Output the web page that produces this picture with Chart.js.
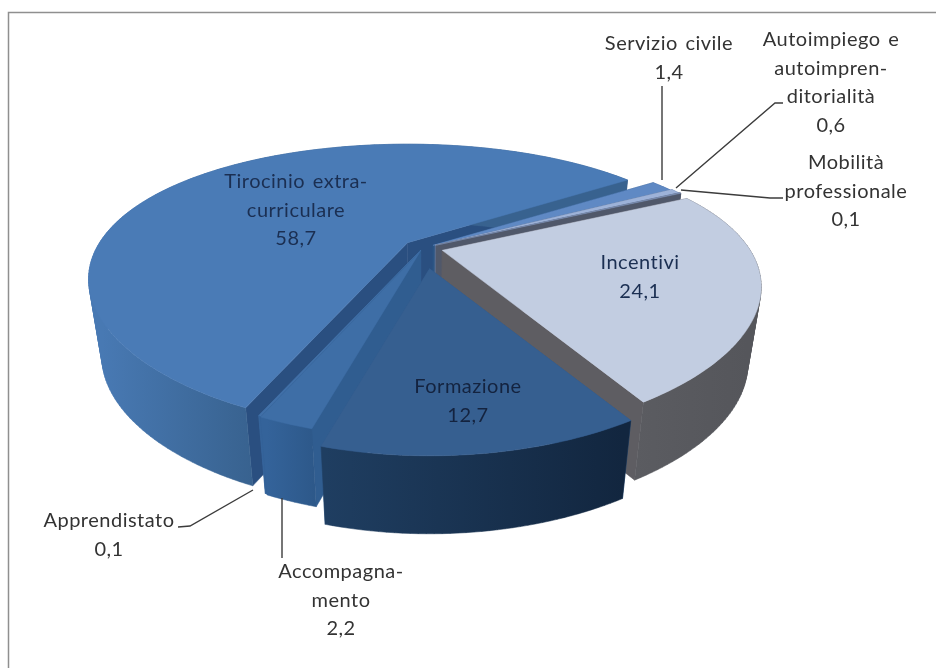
<!DOCTYPE html>
<html>
<head>
<meta charset="utf-8">
<style>
  body { margin: 0; background: #fff; }
  canvas { display: block; }
</style>
<script src="https://cdn.jsdelivr.net/npm/chart.js@4"></script>
</head>
<body>
<canvas id="chart" width="936" height="668"></canvas>
<script>
// Data, clockwise from the front-left corner
const categories = [
    ['Tirocinio extra-', 'curriculare'],
    ['Servizio civile'],
    ['Autoimpiego e', 'autoimpren-', 'ditorialità'],
    ['Mobilità', 'professionale'],
    ['Incentivi'],
    ['Formazione'],
    ['Accompagna-', 'mento'],
    ['Apprendistato']
];
const values = [58.7, 1.4, 0.6, 0.1, 24.1, 12.7, 2.2, 0.1];

const topColors = ['#4a7bb6', '#5f89c4', '#9db2d8', '#7f93b8', '#c2cde1', '#365f90', '#3e6ea6', '#4170a8'];
const wallColors = [['#4879b3', '#38628f'], ['#3a5f92', '#3a5f92'], ['#5f7396', '#5f7396'], ['#50586a', '#50586a'], ['#5b5c61', '#55565b'], ['#1f3e61', '#12263f'], ['#34639a', '#2d5889'], ['#34639a', '#34639a']];
const sideColors = ['#2a4f80', '#2d5685', '#5f7396', '#50586a', '#5e5d62', '#2f5a8c', '#305d90', '#3a679c'];
const explode = [20, 12, 14, 15, 20, 50, 8, 6];

// back to front
const drawOrder = [0, 1, 2, 3, 4, 7, 6, 5];

// centre of each text block, one entry per slice
const labelCentres = [[296, 182], [669, 44], [831, 40], [846, 163], [640, 263], [468, 387], [341, 572], [109, 521]];
const labelColors = ['#1b2f52', '#333', '#333', '#333', '#1b2f52', '#14233f', '#333', '#333'];

const leaders = [
    [[662, 86], [662, 180]],
    [[783, 103], [775, 103], [676, 188]],
    [[783, 198], [770, 198], [681, 190]],
    [[178, 527], [190, 526], [253, 490]],
    [[282, 498], [282, 558]]
];

// perspective of the disc
const TILT = 0.419, PERSP_X = 0.26, PERSP_Y = 0.31, DEPTH = 78, SHRINK = 0.04;

function project(arc, angle, radius, z) {
    const mid = (arc.startAngle + arc.endAngle) / 2;
    const off = arc.options.offset;
    const gx = radius * Math.cos(angle);
    const gy = radius * Math.sin(angle);
    const v = gy / arc.outerRadius;
    return [
        arc.x + (1 - SHRINK * z) * (off * Math.cos(mid) + gx / (1 - PERSP_X * v)),
        arc.y + TILT * (off * Math.sin(mid) + gy / (1 - PERSP_Y * v)) + DEPTH * z
    ];
}

function rimPoints(arc, z) {
    const pts = [];
    const steps = Math.max(4, Math.ceil((arc.endAngle - arc.startAngle) / 0.02));
    for (let i = 0; i <= steps; i++) {
        pts.push(project(arc, arc.startAngle + (arc.endAngle - arc.startAngle) * i / steps, arc.outerRadius, z));
    }
    return pts;
}

function tracePoly(ctx, pts) {
    pts.forEach((p, i) => i ? ctx.lineTo(p[0], p[1]) : ctx.moveTo(p[0], p[1]));
    ctx.closePath();
}

function fillPoly(ctx, pts, fill) {
    ctx.beginPath();
    tracePoly(ctx, pts);
    ctx.fillStyle = fill;
    ctx.strokeStyle = fill;
    ctx.lineWidth = 0.5;
    ctx.fill();
    ctx.stroke();
}

// all quads in one path so no seams show between them
function fillWall(ctx, topRim, lowRim, fill) {
    ctx.beginPath();
    for (let n = 0; n < topRim.length - 1; n++) {
        const quad = [topRim[n], topRim[n + 1], lowRim[n + 1], lowRim[n]];
        let area = 0;
        quad.forEach((p, k) => {
            const q = quad[(k + 1) % 4];
            area += p[0] * q[1] - q[0] * p[1];
        });
        tracePoly(ctx, area < 0 ? quad.reverse() : quad);
    }
    ctx.fillStyle = fill;
    ctx.strokeStyle = fill;
    ctx.lineWidth = 0.5;
    ctx.fill();
    ctx.stroke();
}

const pie3d = {
    id: 'pie3d',
    beforeDatasetsDraw(chart) {
        const ctx = chart.ctx;
        const arcs = chart.getDatasetMeta(0).data;
        ctx.save();
        drawOrder.forEach(i => {
            const arc = arcs[i];
            const topRim = rimPoints(arc, 0);
            const lowRim = rimPoints(arc, 1);
            const apexTop = project(arc, 0, 0, 0);
            const apexLow = project(arc, 0, 0, 1);
            const last = topRim.length - 1;

            // the two cut faces
            fillPoly(ctx, [apexTop, topRim[0], lowRim[0], apexLow], sideColors[i]);
            fillPoly(ctx, [apexTop, topRim[last], lowRim[last], apexLow], sideColors[i]);

            // outer wall, colour runs over the part that faces the viewer
            const front = lowRim.filter((p, n) => Math.sin(arc.startAngle + (arc.endAngle - arc.startAngle) * n / last) > 0);
            const xs = (front.length ? front : lowRim).map(p => p[0]);
            const grad = ctx.createLinearGradient(Math.min(...xs), 0, Math.max(...xs), 0);
            grad.addColorStop(0, wallColors[i][0]);
            grad.addColorStop(1, wallColors[i][1]);
            fillWall(ctx, topRim, lowRim, grad);

            // top face
            fillPoly(ctx, [apexTop].concat(topRim), arc.options.backgroundColor);
        });
        ctx.restore();
        return false;
    },
    afterDraw(chart) {
        const ctx = chart.ctx;
        ctx.save();

        // frame of the picture, only top and left are there
        ctx.strokeStyle = '#8f8f8f';
        ctx.lineWidth = 1.5;
        ctx.beginPath();
        ctx.moveTo(8.5, 668);
        ctx.lineTo(8.5, 12.5);
        ctx.lineTo(936, 12.5);
        ctx.stroke();

        ctx.strokeStyle = '#3c3c3c';
        ctx.lineWidth = 1.4;
        leaders.forEach(line => {
            ctx.beginPath();
            line.forEach((p, i) => i ? ctx.lineTo(p[0], p[1]) : ctx.moveTo(p[0], p[1]));
            ctx.stroke();
        });

        ctx.font = '20px Lato';
        ctx.letterSpacing = '0.5px';
        ctx.wordSpacing = '2px';
        ctx.textAlign = 'center';
        ctx.textBaseline = 'middle';
        categories.forEach((lines, i) => {
            const text = lines.concat(values[i].toFixed(1).replace('.', ','));
            ctx.fillStyle = labelColors[i];
            text.forEach((line, n) => {
                ctx.fillText(line, labelCentres[i][0], labelCentres[i][1] + n * 28.5);
            });
        });
        ctx.restore();
    }
};

new Chart(document.getElementById('chart'), {
    type: 'pie',
    data: {
        labels: categories.map(c => c.join(' ')),
        datasets: [{
            data: values,
            backgroundColor: topColors,
            offset: explode,
            borderWidth: 0
        }]
    },
    options: {
        responsive: false,
        animation: false,
        rotation: 203.6,
        radius: 308,
        layout: { padding: { right: 90, bottom: 172 } },
        plugins: {
            legend: { display: false },
            tooltip: { enabled: false }
        }
    },
    plugins: [pie3d]
});
</script>
</body>
</html>
